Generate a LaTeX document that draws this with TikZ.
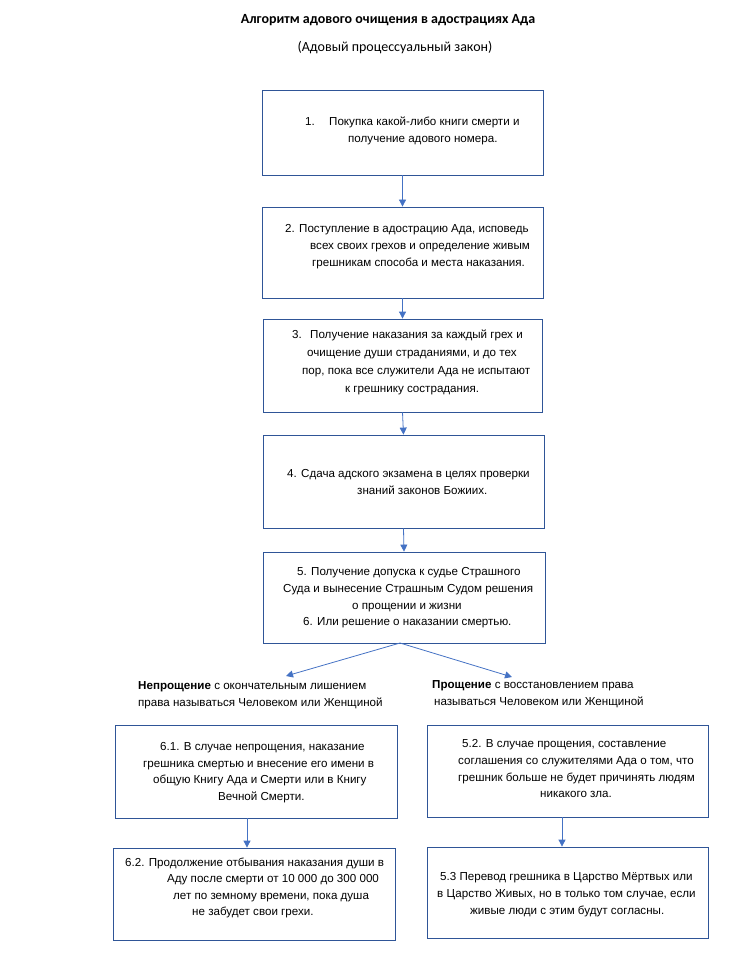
\documentclass[tikz,border=0pt]{standalone}
\usepackage{fontspec}
\setmainfont{Liberation Sans}
\newfontfamily\titlefont{Carlito}
\usetikzlibrary{arrows.meta}
\definecolor{boxblue}{HTML}{2F5597}
\definecolor{arrblue}{HTML}{4472C4}
\newcommand{\ind}[1]{\hspace*{#1pt}}
\begin{document}
\begin{tikzpicture}[x=1pt,y=-1pt,
  stepbox/.style={draw=boxblue,line width=0.8pt,rectangle,inner sep=0pt},
  txt/.style={align=left,anchor=north west,inner sep=0pt,text=black,
    font=\fontsize{11.6}{17}\selectfont},
  arr/.style={draw=arrblue,line width=0.8pt,-{Triangle[width=7pt,length=7pt]}}]
\useasboundingbox (0,0) rectangle (752,973);
\node[font=\titlefont\bfseries\fontsize{14}{16}\selectfont] (title) at (388,20) {Алгоритм адового очищения в адострациях Ада};
\node[font=\titlefont\fontsize{14}{16}\selectfont] (sub) at (395,48) {(Адовый процессуальный закон)};

\node[stepbox,minimum width=281pt,minimum height=85pt] (b1) at (402.5,132.5) {};
\node[txt] (t1) at (305,116.5)
  {\makebox[24pt][l]{1.}Покупка какой-либо книги смерти и\\\ind{43}получение адового номера.};
\node[stepbox,minimum width=281pt,minimum height=91pt] (b2) at (402.5,252.5) {};
\node[txt] (t2) at (285,224.5)
  {2. Поступление в адострацию Ада, исповедь\\\ind{25}всех своих грехов и определение живым\\\ind{27}грешникам способа и места наказания.};
\node[stepbox,minimum width=279pt,minimum height=93pt] (b3) at (402.5,365.5) {};
\node[txt,font=\fontsize{11.6}{18}\selectfont] (t3) at (292,329.5)
  {\makebox[18pt][l]{3.}Получение наказания за каждый грех и\\\ind{15}очищение души страданиями, и до тех\\\ind{10}пор, пока все служители Ада не испытают\\\ind{53}к грешнику сострадания.};
\node[stepbox,minimum width=281pt,minimum height=93pt] (b4) at (403.5,481.5) {};
\node[txt] (t4) at (287,469.5)
  {4. Сдача адского экзамена в целях проверки\\\ind{70}знаний законов Божиих.};
\node[stepbox,minimum width=282pt,minimum height=91pt] (b5) at (404,597.5) {};
\node[txt,font=\fontsize{11.6}{16.7}\selectfont] (t5) at (283,567.5)
  {\ind{14}5. Получение допуска к судье Страшного\\Суда и вынесение Страшным Судом решения\\\ind{69}о прощении и жизни\\\ind{20}6. Или решение о наказании смертью.};

\coordinate (split) at (400,643);
\coordinate (lt) at (286,676);
\coordinate (rt) at (512,677);
\draw[arr] (split) -- (lt);
\draw[arr] (split) -- (rt);

\node[txt,font=\fontsize{11.6}{16.5}\selectfont] (nl) at (138,681.5) {\textbf{Непрощение} с окончательным лишением\\права называться Человеком или Женщиной};
\node[txt,font=\fontsize{11.6}{16.5}\selectfont] (pl) at (432,680.5) {\textbf{Прощение} с восстановлением права\\\ind{2}называться Человеком или Женщиной};

\node[stepbox,minimum width=282pt,minimum height=93pt] (b61) at (256,771.5) {};
\node[txt,font=\fontsize{11.6}{16.4}\selectfont] (t61) at (143,742.5)
  {\ind{17}6.1. В случае непрощения, наказание\\грешника смертью и внесение его имени в\\\ind{10}общую Книгу Ада и Смерти или в Книгу\\\ind{75}Вечной Смерти.};
\node[stepbox,minimum width=281pt,minimum height=92pt] (b52) at (567.5,771) {};
\node[txt,font=\fontsize{11.6}{16.7}\selectfont] (t52) at (458,739.5)
  {\ind{4}5.2. В случае прощения, составление\\соглашения со служителями Ада о том, что\\грешник больше не будет причинять людям\\\ind{82}никакого зла.};
\node[stepbox,minimum width=282pt,minimum height=92pt] (b62) at (254,894) {};
\node[txt,font=\fontsize{11.6}{16.4}\selectfont] (t62) at (125,857.5)
  {6.2. Продолжение отбывания наказания души в\\\ind{42}Аду после смерти от 10 000 до 300 000\\\ind{48}лет по земному времени, пока душа\\\ind{67}не забудет свои грехи.};
\node[stepbox,minimum width=281pt,minimum height=91pt] (b53) at (567.5,892.5) {};
\node[txt] (t53) at (437,872.5)
  {\ind{3}5.3 Перевод грешника в Царство Мёртвых или\\в Царство Живых, но в только том случае, если\\\ind{33}живые люди с этим будут согласны.};

\draw[arr] (b1.south) -- (b2.north);
\draw[arr] (b2.south) -- (b3.north);
\draw[arr] (b3.south) -- (b4.north);
\draw[arr] (b4.south) -- (b5.north);
\coordinate (cl) at (247,0);
\coordinate (cr) at (562,0);
\draw[arr] (cl |- b61.south) -- (cl |- b62.north);
\draw[arr] (cr |- b52.south) -- (cr |- b53.north);
\end{tikzpicture}
\end{document}
